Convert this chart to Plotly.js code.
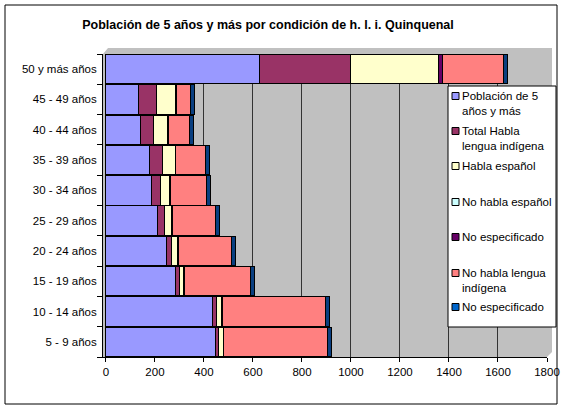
<!DOCTYPE html>
<html>
<head>
<meta charset="utf-8">
<script src="https://cdn.plot.ly/plotly-3.0.1.min.js"></script>
<style>
  html, body { margin: 0; padding: 0; background: #fff; }
  #chart { width: 562px; height: 411px; }
</style>
</head>
<body>
<div id="chart"></div>
<script>
// ---- Data (bottom to top) ----
const categories = ['5 - 9 años', '10 - 14 años', '15 - 19 años', '20 - 24 años', '25 - 29 años',
  '30 - 34 años', '35 - 39 años', '40 - 44 años', '45 - 49 años', '50 y más años'];
const seriesNames = ['Población de 5 años y más', 'Total Habla lengua indígena', 'Habla español',
  'No habla español', 'No especificado', 'No habla lengua indígena', 'No especificado'];
const poblacion      = [447, 433, 285, 248, 210, 185, 179, 142, 132, 626];
const totalHabla     = [12, 20, 15, 18, 28, 37, 51, 51, 75, 373];
const hablaEspanol   = [19, 20, 17, 27, 31, 38, 53, 59, 78, 357];
const noHablaEspanol = [1, 1, 1, 1, 1, 1, 1, 1, 1, 2];
const noEspecif1     = [1, 1, 1, 1, 1, 1, 1, 1, 1, 16];
const noHablaLengua  = [425, 420, 272, 219, 178, 148, 123, 88, 57, 250];
const noEspecif2     = [16, 16, 14, 16, 16, 15, 16, 14, 16, 13];
const xTickVals = [0, 200, 400, 600, 800, 1000, 1200, 1400, 1600, 1800];
const legendLabels = ['Población de 5<br>años y más', 'Total Habla<br>lengua indígena', 'Habla español',
  'No habla español', 'No especificado', 'No habla lengua<br>indígena', 'No especificado'];

const seriesValues = [poblacion, totalHabla, hablaEspanol, noHablaEspanol, noEspecif1, noHablaLengua, noEspecif2];
const barColors = ['#9999FF', '#993366', '#FFFFCC', '#CCFFFF', '#660066', '#FF8080', '#0A3F80'];
const swatchColors = ['#9999FF', '#993366', '#FFFFCC', '#CCFFFF', '#660066', '#FF8080', '#0066CC'];

const W = 562, H = 411;
const M = { l: 103, r: 15, t: 54, b: 54 };
const PW = W - M.l - M.r, PH = H - M.t - M.b;
const px = x => (x - M.l) / PW;
const py = y => (H - M.b - y) / PH;
const FONT = 'Liberation Sans, Arial, sans-serif';

const traces = seriesValues.map((vals, i) => ({
  type: 'bar',
  orientation: 'h',
  name: seriesNames[i],
  y: categories,
  x: vals,
  marker: { color: barColors[i], line: { color: '#000', width: 1 } },
  showlegend: false,
  hoverinfo: 'x+name'
}));

const shapes = [];
// outer chart border
shapes.push({ type: 'rect', xref: 'paper', yref: 'paper', x0: px(5), x1: px(557), y0: py(404), y1: py(5),
  line: { color: '#000', width: 1 }, fillcolor: 'rgba(0,0,0,0)', layer: 'below' });
// 3D wall (gray area)
shapes.push({ type: 'path', xref: 'paper', yref: 'paper', layer: 'below',
  path: `M ${px(103)} ${py(54)} L ${px(108)} ${py(48)} L ${px(552)} ${py(48)} L ${px(552)} ${py(352)} L ${px(547)} ${py(357)} L ${px(103)} ${py(357)} Z`,
  fillcolor: '#C0C0C0', line: { width: 0 } });
// legend box
shapes.push({ type: 'rect', xref: 'paper', yref: 'paper', x0: px(448), x1: px(556), y0: py(327), y1: py(86),
  line: { color: '#000', width: 1 }, fillcolor: '#FFFFFF' });

const legendY = [96, 131, 166, 202, 237, 273, 307];
const annotations = [];
legendLabels.forEach((lab, i) => {
  const yc = legendY[i];
  shapes.push({ type: 'rect', xref: 'paper', yref: 'paper',
    x0: px(452), x1: px(459), y0: py(yc + 3.5), y1: py(yc - 3.5),
    fillcolor: swatchColors[i], line: { color: '#000', width: 1 } });
  annotations.push({ xref: 'paper', yref: 'paper', x: px(460), y: py(yc - 8),
    xanchor: 'left', yanchor: 'top', align: 'left', showarrow: false, text: lab,
    font: { family: FONT, size: 11.5, color: '#000' } });
});

const layout = {
  width: W, height: H,
  margin: M,
  paper_bgcolor: '#FFFFFF',
  plot_bgcolor: '#C0C0C0',
  barmode: 'stack',
  bargap: 0.03,
  showlegend: false,
  font: { family: FONT, size: 11.5, color: '#000' },
  title: {
    text: '<b>Población de 5 años y más por condición de h. l. i. Quinquenal</b>',
    x: 268 / W, xref: 'container', xanchor: 'center',
    y: 1 - 25 / H, yref: 'container', yanchor: 'middle',
    font: { family: FONT, size: 12.5, color: '#000' }
  },
  xaxis: {
    range: [-12, 1800],
    tickvals: xTickVals,
    ticktext: xTickVals.map(String),
    showgrid: true, gridcolor: '#333', gridwidth: 1,
    zeroline: false,
    showline: true, linecolor: '#000', linewidth: 1,
    ticks: 'outside', ticklen: 4, tickcolor: '#000',
    tickfont: { size: 11.5 }
  },
  yaxis: {
    type: 'category',
    categoryorder: 'array', categoryarray: categories,
    showgrid: false, zeroline: false,
    showline: true, linecolor: '#000', linewidth: 1,
    ticks: 'outside', ticklen: 5, tickcolor: '#000', tickson: 'boundaries',
    ticklabelstandoff: 3,
    tickfont: { size: 11.5 }
  },
  shapes: shapes,
  annotations: annotations
};

Plotly.newPlot('chart', traces, layout, { displayModeBar: false, staticPlot: true });
</script>
</body>
</html>
